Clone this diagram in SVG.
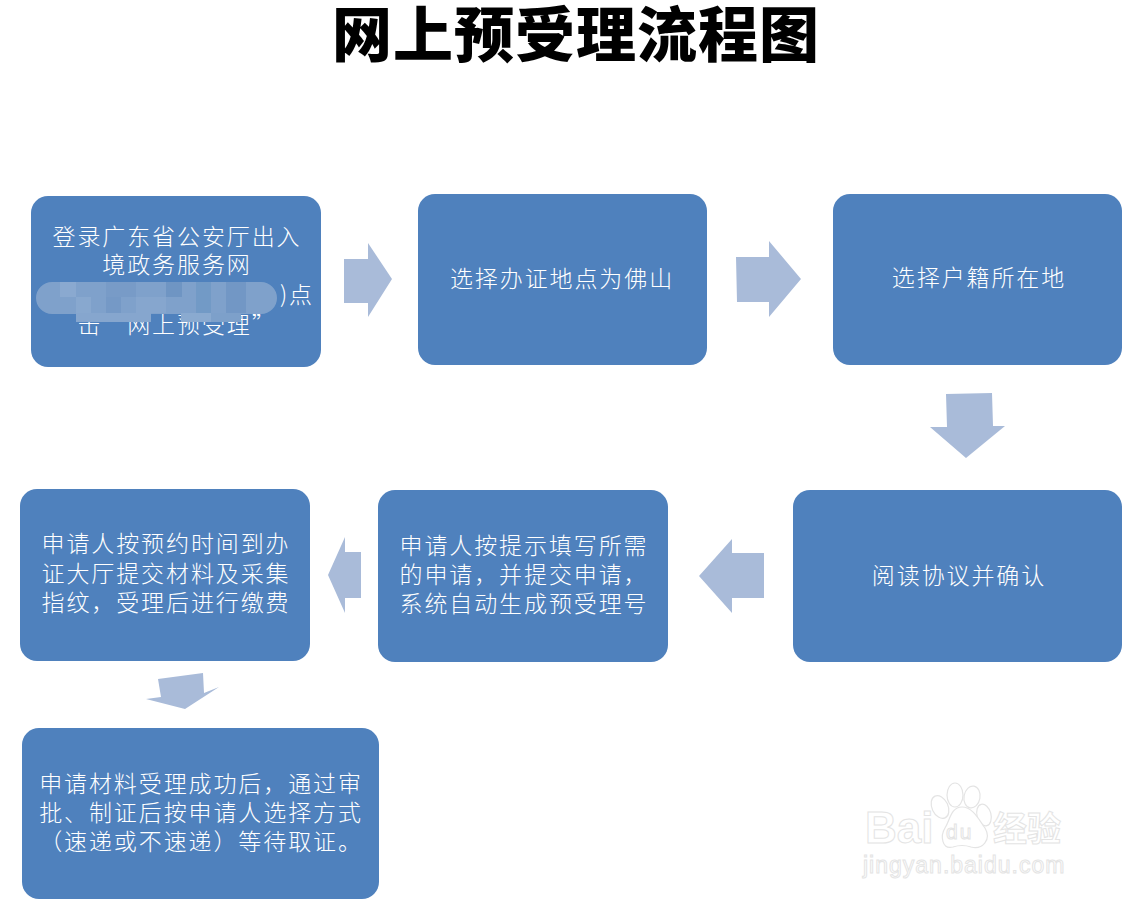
<svg xmlns="http://www.w3.org/2000/svg" width="1126" height="903" viewBox="0 0 1126 903">
<style>
.box{fill:#4f81bd}
.arrow{fill:#a9bbd9}
text{font-family:"Noto Sans CJK SC","Noto Sans",sans-serif}
.t{fill:#fff;font-size:23px;font-weight:300;text-anchor:middle;letter-spacing:1.9px}
.title{fill:#000;font-size:60px;font-weight:900;text-anchor:middle;letter-spacing:1px}
.wm{fill:#fff;stroke:#e4e4e4;stroke-width:1;font-family:"Liberation Sans",sans-serif}
.paw{fill:#fff;stroke:#e4e4e4;stroke-width:1.2}
</style>
<defs><clipPath id="blurclip"><rect x="36" y="282" width="241" height="32" rx="16"/><rect x="76" y="300" width="75" height="22"/><rect x="181" y="300" width="60" height="22"/></clipPath></defs>
<rect width="1126" height="903" fill="#fff"/>
<text class="title" x="576" y="57">网上预受理流程图</text>
<g id="connectors">
<polygon class="arrow" points="344,259 368,259 368,243 392,279 368,317 368,303 344,303"/>
<polygon class="arrow" points="736,257 769,257 769,241 801,279 769,317 769,302 737,302"/>
<polygon class="arrow" points="946,394 992,393 993,426 1005,426 966,458 930,427 947,427"/>
<polygon class="arrow" points="764,553 732,553 732,539 699,576 732,613 732,598 764,598"/>
<polygon class="arrow" points="361,552 345,552 345,537 328,575 345,613 345,598 361,598"/>
<polygon class="arrow" points="158,679 203,673 204,693 219,687 185,709 146,699 161,697"/>
</g>
<g id="node1"><rect class="box" x="31" y="196" width="290" height="171" rx="17"/>
<text class="t" x="177" y="245">登录广东省公安厅出入</text>
<text class="t" x="177" y="273">境政务服务网</text>
<text class="t" x="297" y="303">)点</text>
<text class="t" x="177" y="333">击“网上预受理”</text>
<g clip-path="url(#blurclip)">
<rect x="36" y="282" width="241" height="40" fill="#7fa1cb"/>
<rect x="60" y="282" width="16" height="15" fill="#8aa9d0"/>
<rect x="106" y="282" width="30" height="15" fill="#789bc7"/>
<rect x="166" y="282" width="16" height="15" fill="#6f95c3"/>
<rect x="76" y="297" width="15" height="16" fill="#88a8cf"/>
<rect x="106" y="297" width="15" height="16" fill="#7599c6"/>
<rect x="136" y="297" width="30" height="16" fill="#86a6ce"/>
<rect x="196" y="282" width="15" height="31" fill="#729ac6"/>
<rect x="226" y="282" width="20" height="31" fill="#7297c5"/>
<rect x="76" y="313" width="75" height="9" fill="#86a6ce"/>
<rect x="181" y="313" width="30" height="9" fill="#8aaad0"/>
<rect x="211" y="313" width="30" height="9" fill="#7da0ca"/>
</g></g>
<g id="node2"><rect class="box" x="418" y="194" width="289" height="171" rx="17"/>
<text class="t" x="562" y="287">选择办证地点为佛山</text></g>
<g id="node3"><rect class="box" x="833" y="194" width="289" height="171" rx="17"/>
<text class="t" x="979" y="286">选择户籍所在地</text></g>
<g id="node4"><rect class="box" x="793" y="490" width="329" height="172" rx="17"/>
<text class="t" x="959" y="584">阅读协议并确认</text></g>
<g id="node5"><rect class="box" x="378" y="490" width="290" height="172" rx="17"/>
<text class="t" x="524" y="554">申请人按提示填写所需</text>
<text class="t" x="524" y="583">的申请，并提交申请，</text>
<text class="t" x="524" y="612">系统自动生成预受理号</text></g>
<g id="node6"><rect class="box" x="20" y="489" width="290" height="172" rx="17"/>
<text class="t" x="166" y="552">申请人按预约时间到办</text>
<text class="t" x="166" y="582">证大厅提交材料及采集</text>
<text class="t" x="166" y="611">指纹，受理后进行缴费</text></g>
<g id="node7"><rect class="box" x="22" y="728" width="357" height="171" rx="17"/>
<text class="t" x="201" y="792">申请材料受理成功后，通过审</text>
<text class="t" x="201" y="821">批、制证后按申请人选择方式</text>
<text class="t" x="201" y="850">（速递或不速递）等待取证。</text></g>
<g id="watermark">
<ellipse class="paw" cx="940" cy="807" rx="8" ry="12" transform="rotate(-25 940 807)"/>
<ellipse class="paw" cx="955" cy="795" rx="8" ry="12"/>
<ellipse class="paw" cx="972" cy="797" rx="8" ry="11" transform="rotate(10 972 797)"/>
<ellipse class="paw" cx="984" cy="815" rx="7" ry="11" transform="rotate(-15 984 815)"/>
<path class="paw" d="M962 807C973 807 979 820 985 828C992 840 982 850 971 847C965 845 959 845 953 847C942 850 940 836 945 828C950 820 951 807 962 807Z"/>
<text class="wm" x="865" y="843" font-size="44" font-weight="700">Bai</text>
<text class="wm" x="946" y="839" font-size="21" letter-spacing="2">du</text>
<text class="wm" x="993" y="841" font-size="34" font-weight="700" style="font-family:'Noto Sans CJK SC',sans-serif">经验</text>
<text class="wm" x="863" y="873" font-size="23" letter-spacing="1">jingyan.baidu.com</text>
</g>
</svg>
